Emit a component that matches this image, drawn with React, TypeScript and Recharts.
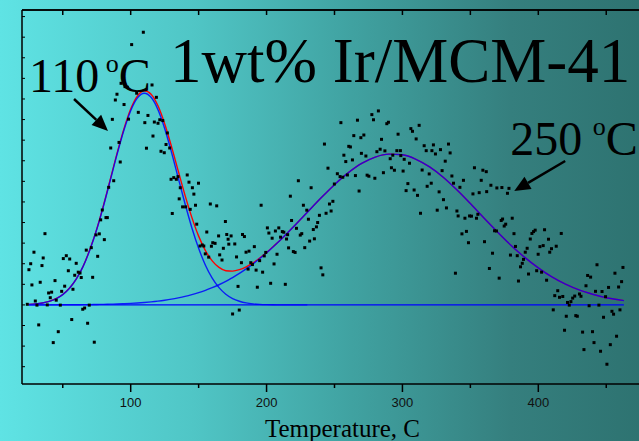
import { ComposedChart, Line, Scatter, XAxis, YAxis, ReferenceLine, ReferenceDot } from "recharts";

// TPD trace of 1wt% Ir/MCM-41: measured points [temperature °C, signal a.u.]
const lowSide: [number, number][] = [
  [23.9, 0.3], [25.1, 17.1], [26.4, 20.0], [27.3, 9.7], [28.8, 25.6], [29.8, 1.9], [31.0, -0.1], [32.3, -9.7],
  [33.4, 11.0], [34.7, 19.1], [35.6, 22.8], [36.9, 34.6], [38.6, 0], [39.6, 5.8], [40.8, 3.5], [41.8, 6.2],
  [43.0, -18.3], [44.3, 11.8], [45.2, 2.3], [46.7, -13.0], [48.2, -0.1], [49.2, 6.6], [50.4, 22.5], [51.4, 9.1],
  [52.6, 23.9], [54.1, 16.6], [55.1, 22.3], [56.6, -7.1], [57.5, 7.6], [58.8, 14.4], [59.9, 20.2], [61.4, 15.9],
  [62.7, 15.5], [63.6, 13.3], [64.7, -2.1], [66.1, -1.5], [67.3, 26.6], [68.3, -8.9], [69.5, -0.1], [71.0, 27.8],
  [72.0, 13.4], [73.2, -18.1], [74.5, 34.0], [75.7, 23.6], [76.9, 34.5], [77.9, 41.3], [79.1, 46.1], [80.6, 31.7],
  [81.8, 42.4], [82.8, 42.4], [83.8, 57.1],
];

const firstPeak: [number, number][] = [
  [85.3, 76.2], [86.5, 90.1], [87.5, 60.3], [88.7, 99.5], [89.9, 102.3], [91.4, 78.9], [92.3, 69.4], [92.9, 107.6],
  [95.1, 97.3], [95.8, 106.0], [97.5, 105.7], [98.4, 90.2], [100.7, 126.4], [104.4, 102.8], [105.6, 93.5],
  [109.3, 132.4], [110.4, 88.5], [111.6, 76.1], [112.7, 92.0], [115.7, 106.8], [116.4, 82.0], [117.4, 88.8],
  [118.9, 100.8], [120.1, 88.2], [121.4, 89.9], [122.3, 74.6], [123.6, 89.5], [124.7, 73.9], [126.0, 77.9],
  [127.0, 83.5], [128.7, 76.2], [129.7, 61.0], [130.6, 44.4], [131.7, 61.8], [133.6, 61.0], [134.8, 62.3],
  [135.7, 51.5], [136.5, 56.9], [138.2, 47.6], [140.4, 47.6], [141.6, 63.1], [142.9, 59.6], [143.8, 46.4],
  [145.4, 56.9], [146.5, 53.8], [147.7, 48.4], [148.6, 39.2], [149.9, 59.1],
];

const valley: [number, number][] = [
  [151.0, 28.6], [152.7, 29.1], [153.8, 28.6], [154.9, 24.8], [156.0, 35.4], [157.4, 23.2], [158.6, 49.0],
  [159.4, 28.5], [160.4, 30.2], [162.1, 29.9], [163.3, 48.1], [164.7, 33.5], [165.5, 24.3], [167.2, 21.8],
  [168.2, 27.5], [169.7, 40.5], [170.7, 34.2], [171.7, 31.9], [172.2, 29.5], [173.9, 33.5], [175.0, -4.4],
  [176.6, 29.6], [177.9, 23.3], [179.0, 9.0], [179.9, -2.5], [181.5, 20.5], [182.3, 34.2], [183.7, 33.2],
  [184.9, 25.6], [186.4, 17.4], [187.1, 26.1], [188.4, 20.5], [189.6, 19.6], [191.0, 28.3], [192.3, 16.9],
  [193.2, 8.6], [194.9, 21.5], [196.0, 48.4], [197.1, 15.9], [198.3, 23.8], [199.4, 25.5],
];

const secondRise: [number, number][] = [
  [200.6, 37.4], [201.7, 34.9], [203.0, 10.5], [204.1, 32.4], [205.5, 19.9], [206.5, 35.9], [207.7, 24.6],
  [209.0, 37.4], [210.3, 32.9], [211.6, 35.6], [212.7, 35.3], [213.8, 10.0], [214.7, 32.0], [215.5, 34.1],
  [216.2, 27.7], [217.5, 52.8], [218.4, 41.0], [219.7, 25.9], [221.0, 25.5], [222.0, 37.2], [223.4, 60.3],
  [224.8, 33.9], [225.9, 34.6], [227.1, 48.4], [228.1, 27.8], [229.6, 46.0], [230.8, 41.6], [231.7, 31.0],
  [232.8, 56.9], [234.4, 36.6], [235.2, 32.1], [236.7, 37.9], [237.6, 40.0], [238.9, 43.5], [240.1, 18.0],
  [241.4, 14.6], [242.6, 78.1], [243.8, 44.5], [245.2, 66.4], [246.3, 49.0], [247.5, 45.6], [248.8, 50.3],
  [249.9, 58.7],
];

const secondPeak: [number, number][] = [
  [252.1, 63.7], [254.1, 62.3], [254.7, 88.5], [256.1, 62.0], [256.9, 72.7], [258.3, 69.6], [259.5, 63.1],
  [260.5, 77.0], [261.7, 76.7], [263.2, 70.4], [264.2, 82.2], [265.4, 62.8], [266.9, 89.7], [268.1, 55.3],
  [269.4, 81.2], [269.8, 73.6], [271.6, 82.5], [273.1, 72.3], [274.0, 63.0], [275.3, 62.5], [277.5, 92.4],
  [278.7, 89.9], [279.7, 61.5], [281.2, 74.4], [282.3, 94.2], [283.6, 75.6], [284.6, 80.4], [286.0, 64.2],
  [287.1, 74.8], [288.5, 88.0], [289.7, 88.7], [291.0, 71.0], [291.9, 66.6], [292.9, 72.7], [294.1, 65.4],
  [295.9, 74.9], [296.8, 82.9], [298.5, 74.9], [298.8, 72.5], [300.5, 65.0], [301.3, 70.7], [302.7, 55.5],
  [304.0, 58.9], [305.2, 68.8], [306.2, 85.6], [307.4, 84.3], [308.6, 55.8], [310.1, 80.6], [311.1, 53.2],
  [312.3, 87.2], [313.3, 44.5], [314.5, 65.5], [316.0, 77.3], [317.5, 74.9], [318.2, 57.6], [319.7, 63.6],
  [321.2, 59.1], [321.7, 74.9], [322.8, 77.7], [324.3, 73.3], [325.6, 46.0], [327.0, 54.9], [328.0, 75.4],
  [329.2, 65.2], [330.2, 51.1], [331.5, 69.8], [332.4, 47.1], [333.9, 78.1], [335.1, 73.8], [336.4, 62.6],
  [337.6, 59.1], [339.0, 15.4],
];

const decline: [number, number][] = [
  [340.1, 45.6], [341.0, 43.2], [342.3, 57.1], [343.8, 34.5], [344.9, 60.5], [346.0, 42.1], [347.1, 35.7],
  [348.6, 30.2], [349.4, 43.2], [350.8, 43.1], [351.9, 53.9], [353.0, 66.6], [354.5, 42.1], [355.5, 44.0],
  [356.5, 54.5], [358.0, 60.5], [359.2, 65.4], [360.4, 30.7], [361.7, 64.7], [362.0, 55.0], [364.0, 17.7],
  [365.1, 58.1], [366.3, 25.1], [367.8, 36.0], [369.2, 35.9], [369.5, 56.8], [371.2, 13.0], [372.7, 41.0],
  [373.2, 57.0], [373.7, 41.7], [374.9, 38.3], [376.0, 39.2], [377.3, 54.2], [378.4, 56.6], [379.5, 24.2],
  [380.8, 42.1], [382.1, 34.6], [383.2, 28.4], [384.5, 23.9], [385.4, 11.6], [386.9, 18.5], [388.2, 20.2],
  [389.1, 22.1], [390.4, 25.6], [391.8, 27.5], [392.8, 15.0], [394.1, 32.0], [395.3, 34.7], [396.5, 35.6],
  [397.7, 36.3], [398.8, 16.6], [399.9, 24.6], [401.2, 28.3], [402.4, 15.9], [403.6, 28.8], [404.6, 36.5],
  [406.1, 12.0], [407.5, 31.9], [408.4, 25.6], [409.7, 27.3],
];

const highTail: [number, number][] = [
  [411.0, -2.4], [412.1, 4.5], [413.2, 28.5], [414.3, 6.9], [415.6, 3.7], [416.9, 34.7], [418.0, 4.1],
  [419.3, -12.3], [420.6, -5.5], [421.5, 1.2], [422.8, -0.1], [424.0, 1.6], [425.3, 3.3], [426.8, 4.3],
  [427.6, -5.2], [428.7, -5.5], [430.3, 5.3], [431.4, 4.2], [432.6, -13.2], [433.6, -21.7], [435.1, 9.3],
  [436.3, 14.3], [437.4, -0.4], [438.5, 13.5], [439.9, -13.0], [441.0, -18.3], [442.1, 6.6], [443.2, 19.5],
  [444.6, -0.1], [445.8, -22.5], [446.9, 6.5], [448.0, -6.0], [449.5, 4.0], [450.5, -28.8], [451.7, 8.5],
  [453.0, -19.3], [454.2, -3.1], [455.4, -4.5], [456.4, 15.4], [457.6, -15.2], [459.1, 8.7], [460.1, -2.4],
  [461.3, 11.3], [462.3, 18.2],
];

// fitted curves, sampled on a shared temperature grid
const curveTemps = [
  25, 30, 35, 40, 45, 50, 55, 60, 65, 70, 75, 80, 85, 90, 95, 100, 105, 110, 115, 120,
  125, 130, 135, 140, 145, 150, 155, 160, 165, 170, 175, 180, 185, 190, 195, 200, 205, 210, 215,
  220, 230, 240, 250, 260, 270, 280, 290, 300, 310, 320, 330, 340, 350, 360, 370, 380, 390, 400,
  410, 420, 430, 440, 450, 460, 463,
];
const peak110 = [
  0.24, 0.48, 0.93, 1.7, 2.98, 5.02, 8.12, 12.6, 18.7, 26.8, 36.6, 48.1, 60.6, 73.2, 84.8, 94.3, 100.5, 102.8,
  100.8, 94.9, 85.7, 74.2, 61.6, 49.1, 37.5, 27.5, 19.3, 13.0, 8.4, 5.2, 3.1, 1.8, 0.97, 0.51, 0.25, 0.12,
  0.06, 0.03, 0.01, 0, 0,
];
const peak250 = [
  0.01, 0.02, 0.02, 0.03, 0.04, 0.05, 0.07, 0.09, 0.12, 0.16, 0.21, 0.28, 0.36, 0.46, 0.59, 0.76, 0.95, 1.2,
  1.5, 1.86, 2.29, 2.8, 3.42, 4.13, 4.97, 5.94, 7.07, 8.35, 9.79, 11.4, 13.3, 15.3, 17.5, 19.9, 22.5, 25.3,
  28.3, 31.4, 34.7, 38.1, 45.0, 51.9, 58.4, 64.1, 68.7, 71.8, 73.2, 72.9, 70.7, 67.0, 62.0, 55.9, 49.2, 42.2,
  35.4, 28.9, 23.1, 18.0, 13.6, 10.1, 7.3, 5.2, 3.5, 2.4, 2.1,
];
const fitSum = [
  0.25, 0.5, 0.95, 1.73, 3.02, 5.07, 8.19, 12.7, 18.8, 27.0, 36.8, 48.4, 61.0, 73.7, 85.4, 95.1, 101.5, 104.0,
  102.3, 96.8, 88.0, 77.0, 65.0, 53.2, 42.5, 33.4, 26.4, 21.4, 18.2, 16.6, 16.4, 17.1, 18.5, 20.4, 22.8, 25.4,
  28.4, 31.4, 34.7, 38.1, 45.0, 51.9, 58.4, 64.1, 68.7, 71.8, 73.2, 72.9, 70.7, 67.0, 62.0, 55.9, 49.2, 42.2,
  35.4, 28.9, 23.1, 18.0, 13.6, 10.1, 7.3, 5.2, 3.5, 2.4, 2.1,
];

const tempTicks = [50, 100, 150, 200, 250, 300, 350, 400, 450];
const signalTicks = [-30, -20, -10, 0, 10, 20, 30, 40, 50, 60, 70, 80, 90, 100, 110, 120, 130, 140];
const signalMax = 143.2;

const readings = [...lowSide, ...firstPeak, ...valley, ...secondRise, ...secondPeak, ...decline, ...highTail].map(
  ([t, v]) => ({ t, v })
);
const toRows = (values: number[]) => values.map((v, i) => ({ t: curveTemps[i], v }));

const SERIF = "'Liberation Serif', 'Times New Roman', serif";

function BottomTick({ x, y, payload }: any) {
  const major = payload.value % 100 === 0;
  return (
    <g>
      <line x1={x} y1={y} x2={x} y2={y + (major ? 8 : 4)} stroke="#000" strokeWidth={1.5} />
      {major && (
        <text x={x} y={y + 23} textAnchor="middle" fontFamily="'Liberation Sans', Arial, sans-serif" fontSize={13} fill="#111">
          {payload.value}
        </text>
      )}
    </g>
  );
}

function TopTick({ x, y }: any) {
  return <line x1={x} y1={y} x2={x} y2={y + 5} stroke="#000" strokeWidth={1.5} />;
}

function LeftTick({ x, y }: any) {
  return <line x1={x} y1={y} x2={x + 3} y2={y} stroke="#000" strokeWidth={1} />;
}

function AxisTitle({ viewBox }: any) {
  return (
    <text x={viewBox.x + viewBox.width / 2 + 8} y={viewBox.y + viewBox.height - 4} textAnchor="middle" fontFamily={SERIF} fontSize={25} fill="#000">
      Temperature, C
    </text>
  );
}

const squareDot = (p: any) => <rect x={p.cx - 1.5} y={p.cy - 1.5} width={3} height={3} fill="#000" />;

const arrow = (p: any) => {
  const { x1, y1, x2, y2 } = p;
  const a = Math.atan2(y2 - y1, x2 - x1);
  const bx = x2 - 16 * Math.cos(a);
  const by = y2 - 16 * Math.sin(a);
  const nx = -Math.sin(a) * 7;
  const ny = Math.cos(a) * 7;
  return (
    <g>
      <line x1={x1} y1={y1} x2={bx} y2={by} stroke="#000" strokeWidth={2.5} />
      <polygon points={`${x2},${y2} ${bx + nx},${by + ny} ${bx - nx},${by - ny}`} fill="#000" />
    </g>
  );
};

const peakLabel = (main: string, gap: number) => (p: any) => (
  <text x={p.cx} y={p.cy} fontFamily={SERIF} fontSize={48} fill="#000">
    {main}
    <tspan fontSize={26} dx={gap} dy={-20}> o</tspan>
    <tspan dy={20}>C</tspan>
  </text>
);

const titleLabel = (p: any) => (
  <text x={p.cx} y={p.cy} fontFamily={SERIF} fontSize={63} fill="#000">
    1wt% Ir/MCM-41
  </text>
);

export default function App() {
  return (
    <div
      style={{
        position: "fixed",
        left: 0,
        top: 0,
        width: 639,
        height: 441,
        overflow: "hidden",
        background: "linear-gradient(90deg, #5fe3e4 0%, #50c6c6 30%, #40a2a1 55%, #357f7e 80%, #2e7371 100%)",
      }}
    >
      <ComposedChart width={647} height={441} margin={{ top: 0, right: 0, bottom: 0, left: 0 }}>
        <XAxis
          xAxisId="top"
          orientation="top"
          type="number"
          dataKey="t"
          domain={[20, 480]}
          ticks={tempTicks}
          interval={0}
          height={10}
          tickSize={0}
          tickMargin={0}
          tick={<TopTick />}
          axisLine={{ stroke: "#000", strokeWidth: 1.5 }}
          allowDataOverflow
        />
        <XAxis
          type="number"
          dataKey="t"
          domain={[20, 480]}
          ticks={tempTicks}
          interval={0}
          height={57}
          tickSize={0}
          tickMargin={0}
          tick={<BottomTick />}
          axisLine={{ stroke: "#000", strokeWidth: 1.5 }}
          label={<AxisTitle />}
          allowDataOverflow
        />
        <YAxis
          type="number"
          domain={[-38.4, signalMax]}
          ticks={signalTicks}
          interval={0}
          width={22}
          tickSize={0}
          tickMargin={0}
          tick={<LeftTick />}
          axisLine={{ stroke: "#000", strokeWidth: 1.5 }}
          allowDataOverflow
        />

        {/* frame edge along the top of the plot */}
        <ReferenceLine y={signalMax} stroke="#000" strokeWidth={1.5} />
        <ReferenceLine segment={[{ x: 25, y: 0 }, { x: 463, y: 0 }]} stroke="#0000ff" strokeWidth={1.4} />

        <Line data={toRows(fitSum)} dataKey="v" type="monotone" stroke="#ff0000" strokeWidth={1.4} dot={false} isAnimationActive={false} />
        <Line data={toRows(peak110)} dataKey="v" type="monotone" stroke="#0000ff" strokeOpacity={0.85} strokeWidth={1.4} dot={false} isAnimationActive={false} />
        <Line data={toRows(peak250)} dataKey="v" type="monotone" stroke="#0000ff" strokeOpacity={0.85} strokeWidth={1.4} dot={false} isAnimationActive={false} />

        <Scatter data={readings} dataKey="v" shape={squareDot} isAnimationActive={false} />

        <ReferenceDot x={25.1} y={103.4} r={0} shape={peakLabel("110", 0)} ifOverflow="visible" />
        <ReferenceDot x={128.9} y={108.2} r={0} shape={titleLabel} ifOverflow="visible" />
        <ReferenceDot x={379.3} y={72.8} r={0} shape={peakLabel("250", 4)} ifOverflow="visible" />
        <ReferenceLine segment={[{ x: 58.3, y: 100 }, { x: 83.3, y: 84.5 }]} shape={arrow} ifOverflow="visible" />
        <ReferenceLine segment={[{ x: 419.8, y: 69.9 }, { x: 382.3, y: 55.3 }]} shape={arrow} ifOverflow="visible" />
      </ComposedChart>
    </div>
  );
}
